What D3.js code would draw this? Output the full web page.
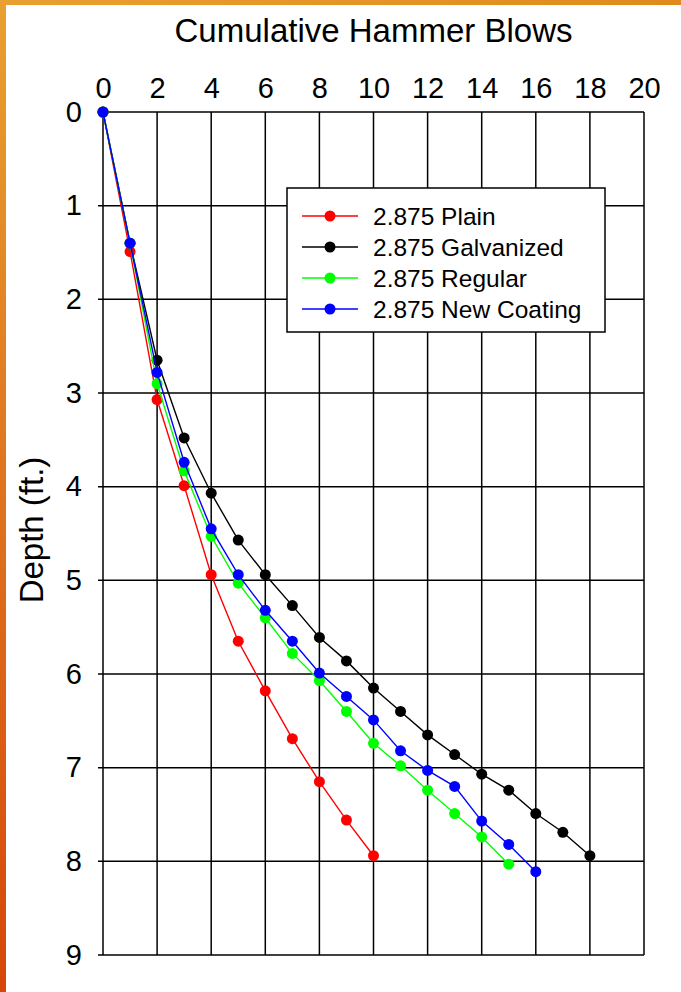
<!DOCTYPE html>
<html>
<head>
<meta charset="utf-8">
<style>
  body { margin: 0; background: #fff; font-family: "Liberation Sans", Arial, sans-serif; }
  svg { display: block; }
</style>
<script src="https://cdn.jsdelivr.net/npm/d3@7"></script>
</head>
<body>
<script>
// blows (x) and depth in ft (y)
var plainBlows = [0, 1, 2, 3, 4, 5, 6, 7, 8, 9, 10];
var plainDepth = [0, 1.49, 3.07, 3.99, 4.94, 5.65, 6.18, 6.69, 7.15, 7.56, 7.94];

var galvBlows = [0, 1, 2, 3, 4, 5, 6, 7, 8, 9, 10, 11, 12, 13, 14, 15, 16, 17, 18];
var galvDepth = [0, 1.4, 2.65, 3.48, 4.07, 4.57, 4.94, 5.27, 5.61, 5.86, 6.15, 6.4, 6.65, 6.86, 7.07, 7.24, 7.49, 7.69, 7.94];

var regBlows = [0, 1, 2, 3, 4, 5, 6, 7, 8, 9, 10, 11, 12, 13, 14, 15];
var regDepth = [0, 1.4, 2.9, 3.83, 4.53, 5.03, 5.4, 5.78, 6.07, 6.4, 6.74, 6.98, 7.24, 7.49, 7.74, 8.03];

var newBlows = [0, 1, 2, 3, 4, 5, 6, 7, 8, 9, 10, 11, 12, 13, 14, 15, 16];
var newDepth = [0, 1.4, 2.78, 3.74, 4.45, 4.94, 5.32, 5.65, 5.99, 6.24, 6.49, 6.82, 7.03, 7.2, 7.57, 7.82, 8.11];

var seriesNames = ["2.875 Plain", "2.875 Galvanized", "2.875 Regular", "2.875 New Coating"];
var seriesColors = ["#ff0000", "#000000", "#00ff00", "#0000ff"];

var xTicks = [0, 2, 4, 6, 8, 10, 12, 14, 16, 18, 20];
var yTicks = [0, 1, 2, 3, 4, 5, 6, 7, 8, 9];

var series = [
  {name: seriesNames[0], color: seriesColors[0], x: plainBlows, y: plainDepth},
  {name: seriesNames[1], color: seriesColors[1], x: galvBlows, y: galvDepth},
  {name: seriesNames[2], color: seriesColors[2], x: regBlows, y: regDepth},
  {name: seriesNames[3], color: seriesColors[3], x: newBlows, y: newDepth}
];

var totalWidth = 681, totalHeight = 992;
var margin = {top: 112, left: 103, right: 37, bottom: 37};
var width = totalWidth - margin.left - margin.right;
var height = totalHeight - margin.top - margin.bottom;

var svg = d3.select("body").append("svg")
  .attr("width", totalWidth)
  .attr("height", totalHeight)
  .style("font-family", "'Liberation Sans', Arial, sans-serif");

/* slide frame: orange bars top and left */
var defs = svg.append("defs");
var gl = defs.append("linearGradient").attr("id", "leftBar")
  .attr("x1", 0).attr("y1", 0).attr("x2", 0).attr("y2", 1);
gl.append("stop").attr("offset", "0%").attr("stop-color", "#e9a030");
gl.append("stop").attr("offset", "100%").attr("stop-color", "#d5470a");
var gt = defs.append("linearGradient").attr("id", "topBar")
  .attr("x1", 0).attr("y1", 0).attr("x2", 1).attr("y2", 0);
gt.append("stop").attr("offset", "0%").attr("stop-color", "#e9a030");
gt.append("stop").attr("offset", "100%").attr("stop-color", "#e08a1e");

svg.append("rect").attr("x", 0).attr("y", 0).attr("width", totalWidth).attr("height", 5)
  .style("fill", "url(#topBar)");
svg.append("rect").attr("x", 0).attr("y", 0).attr("width", 6).attr("height", totalHeight)
  .style("fill", "url(#leftBar)");

var chart = svg.append("g")
  .attr("transform", "translate(" + margin.left + "," + margin.top + ")");

var scaleX = d3.scaleLinear().domain([0, 20]).range([0, width]);
var scaleY = d3.scaleLinear().domain([0, 9]).range([0, height]);

// grid
chart.selectAll(".vgrid").data(xTicks).enter().append("line")
  .attr("x1", function(d) { return scaleX(d); })
  .attr("x2", function(d) { return scaleX(d); })
  .attr("y1", 0).attr("y2", height)
  .style("stroke", "#000").style("stroke-width", 1.5);

chart.selectAll(".hgrid").data(yTicks).enter().append("line")
  .attr("x1", -5).attr("x2", width)
  .attr("y1", function(d) { return scaleY(d); })
  .attr("y2", function(d) { return scaleY(d); })
  .style("stroke", "#000").style("stroke-width", 1.5);

// axes labels
var xAxis = d3.axisTop(scaleX).tickValues(xTicks).tickSize(0).tickPadding(14);
var gx = chart.append("g").call(xAxis);
gx.select(".domain").remove();
gx.selectAll("text").style("font-size", "29px").style("font-family", "'Liberation Sans', Arial, sans-serif").attr("fill", "#000");

var yAxis = d3.axisLeft(scaleY).tickValues(yTicks).tickSize(0).tickPadding(21);
var gy = chart.append("g").call(yAxis);
gy.select(".domain").remove();
gy.selectAll("text").style("font-size", "29px").style("font-family", "'Liberation Sans', Arial, sans-serif").attr("fill", "#000");

// titles
svg.append("text")
  .attr("x", margin.left + scaleX(10))
  .attr("y", 42)
  .attr("text-anchor", "middle")
  .style("font-size", "33px")
  .text("Cumulative Hammer Blows");

svg.append("text")
  .attr("transform", "translate(43," + 530 + ") rotate(-90)")
  .attr("text-anchor", "middle")
  .style("font-size", "33px")
  .text("Depth (ft.)");

// series
var line = d3.line()
  .x(function(d) { return scaleX(d[0]); })
  .y(function(d) { return scaleY(d[1]); });

series.forEach(function(s) {
  var pts = s.x.map(function(v, i) { return [v, s.y[i]]; });
  chart.append("path")
    .datum(pts)
    .attr("d", line)
    .style("fill", "none")
    .style("stroke", s.color)
    .style("stroke-width", 1.4);
  chart.selectAll(null).data(pts).enter().append("circle")
    .attr("cx", function(d) { return scaleX(d[0]); })
    .attr("cy", function(d) { return scaleY(d[1]); })
    .attr("r", 5.5)
    .style("fill", s.color);
});

// legend
var legend = svg.append("g").attr("transform", "translate(287,188)");
legend.append("rect")
  .attr("width", 318).attr("height", 144)
  .style("fill", "#fff").style("stroke", "#000").style("stroke-width", 1.5);

var item = legend.selectAll(".item").data(series).enter().append("g")
  .attr("transform", function(d, i) { return "translate(0," + (28 + i * 31) + ")"; });
item.append("line")
  .attr("x1", 15).attr("x2", 71).attr("y1", 0).attr("y2", 0)
  .style("stroke", function(d) { return d.color; }).style("stroke-width", 1.4);
item.append("circle")
  .attr("cx", 43).attr("cy", 0).attr("r", 5.5)
  .style("fill", function(d) { return d.color; });
item.append("text")
  .attr("x", 86).attr("y", 9)
  .style("font-size", "24.5px")
  .text(function(d) { return d.name; });
</script>
</body>
</html>
